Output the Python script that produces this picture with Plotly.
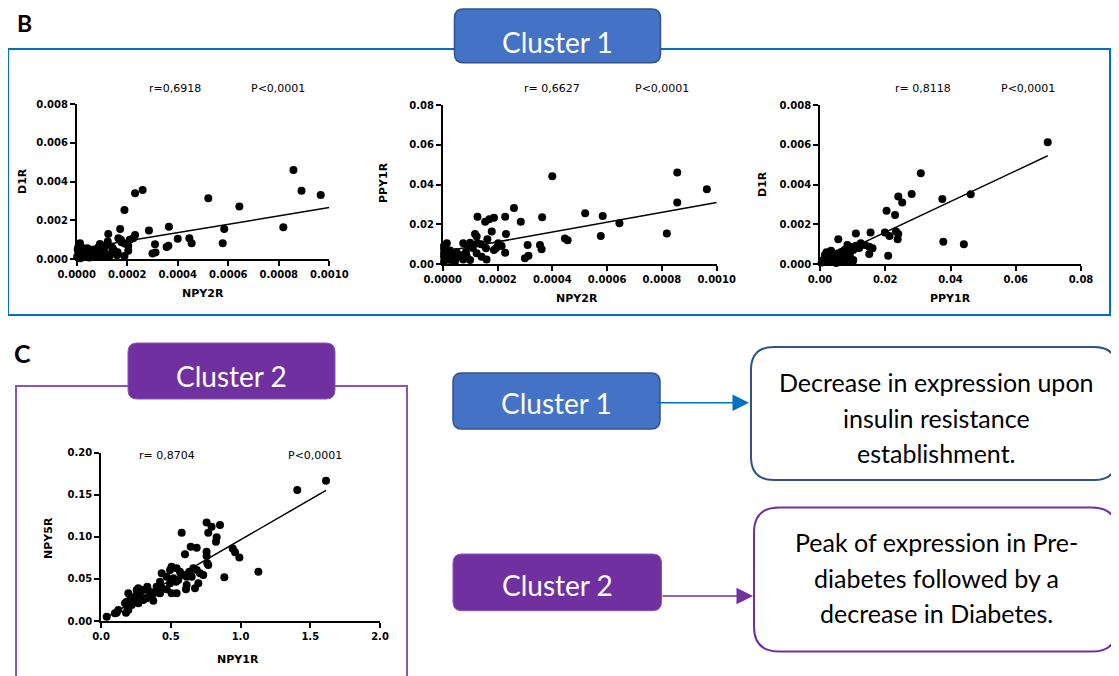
import plotly.graph_objects as go

# ---------------- data ----------------
# Panel B-1 : D1R vs NPY2R
b1_npy2r = [0.000858, 0.000890, 0.000966, 0.000818, 0.000521, 0.000644, 0.000584, 0.000578,
            0.000365, 0.000400, 0.000446, 0.000455, 0.000356, 0.000363, 0.000310, 0.000312,
            0.000300, 0.000286, 0.000261, 0.000231, 0.000189, 0.000172, 0.000231, 0.000224,
            0.000165, 0.000178, 0.000204, 0.000204, 0.000189, 0.000125, 0.000123, 0.000152,
            0.000162, 0.000092, 0.000105, 0.000079, 0.000066, 0.000042, 0.000013, 0.000007,
            0.000006, 0.000013, 0.000042, 0.000026, 0.000002, 0.000053, 0.000092, 0.000119,
            0.000139, 0.000112, 0.000030, 0.000060, 0.000085, 0.000140, 0.000100, 0.000004,
            0.000020, 0.000050, 0.000075, 0.000115, 0.000145, 0.000175, 0.000210, 0.000035,
            0.000015, 0.000160, 0.000190, 0.000130]
b1_d1r = [0.00460, 0.00353, 0.00331, 0.00164, 0.00314, 0.00271, 0.00155, 0.00081,
          0.00167, 0.00105, 0.00107, 0.00081, 0.00062, 0.00069, 0.00076, 0.00034,
          0.00029, 0.00147, 0.00357, 0.00340, 0.00253, 0.00155, 0.00124, 0.00107,
          0.00107, 0.00086, 0.00067, 0.00043, 0.00016, 0.00129, 0.00090, 0.00038,
          0.00035, 0.00078, 0.00055, 0.00036, 0.00026, 0.00055, 0.00081, 0.00065,
          0.00038, 0.00020, 0.00030, 0.00012, 0.00012, 0.00016, 0.00021, 0.00012,
          0.00029, 0.00033, 0.00045, 0.00048, 0.00060, 0.00060, 0.00010, 0.00050,
          0.00060, 0.00008, 0.00015, 0.00070, 0.00050, 0.00100, 0.00100, 0.00025,
          0.00004, 0.00020, 0.00080, 0.00015]
b1_fit = dict(intercept=0.0005, slope=2.16, x0=0.0, x1=0.0010)
b1_stats = ["r=0,6918", "P<0,0001"]

# Panel B-2 : PPY1R vs NPY2R
b2_npy2r = [0.000856, 0.000964, 0.000856, 0.000818, 0.000400, 0.000520, 0.000584, 0.000645,
            0.000577, 0.000446, 0.000456, 0.000363, 0.000355, 0.000361, 0.000310, 0.000313,
            0.000300, 0.000285, 0.000260, 0.000228, 0.000231, 0.000228, 0.000187, 0.000170,
            0.000155, 0.000179, 0.000163, 0.000203, 0.000215, 0.000187, 0.000127, 0.000118,
            0.000124, 0.000127, 0.000100, 0.000075, 0.000094, 0.000158, 0.000124, 0.000142,
            0.000160, 0.000100, 0.000088, 0.000063, 0.000039, 0.000027, 0.000015, 0.000005,
            0.000005, 0.000005, 0.000005, 0.000005, 0.000027, 0.000045, 0.000054, 0.000075,
            0.000110, 0.000140, 0.000050, 0.000020, 0.000035, 0.000195, 0.000085, 0.000010]
b2_ppy1r = [0.0461, 0.0376, 0.0309, 0.0154, 0.0441, 0.0255, 0.0242, 0.0205,
            0.0141, 0.0128, 0.0120, 0.0235, 0.0096, 0.0074, 0.0096, 0.0042,
            0.0029, 0.0213, 0.0282, 0.0238, 0.0151, 0.0057, 0.0233, 0.0225,
            0.0213, 0.0163, 0.0124, 0.0104, 0.0090, 0.0070, 0.0238, 0.0151,
            0.0138, 0.0104, 0.0107, 0.0104, 0.0090, 0.0079, 0.0054, 0.0037,
            0.0023, 0.0020, 0.0037, 0.0045, 0.0057, 0.0068, 0.0104, 0.0092,
            0.0075, 0.0054, 0.0037, 0.0012, 0.0020, 0.0012, 0.0037, 0.0023,
            0.0080, 0.0100, 0.0060, 0.0030, 0.0045, 0.0080, 0.0060, 0.0085]
b2_fit = dict(intercept=0.0062, slope=24.7, x0=0.0, x1=0.0010)
b2_stats = ["r= 0,6627", "P<0,0001"]

# Panel B-3 : D1R vs PPY1R
b3_ppy1r = [0.0698, 0.0309, 0.0281, 0.0240, 0.0252, 0.0375, 0.0462, 0.0204,
            0.0230, 0.0199, 0.0213, 0.0233, 0.0240, 0.0238, 0.0378, 0.0441,
            0.0209, 0.0155, 0.0110, 0.0056, 0.0125, 0.0138, 0.0151, 0.0161,
            0.0151, 0.0084, 0.0092, 0.0102, 0.0110, 0.0034, 0.0020, 0.0015,
            0.0010, 0.0005, 0.0046, 0.0056, 0.0071, 0.0082, 0.0061, 0.0041,
            0.0031, 0.0092, 0.0102, 0.0065, 0.0075, 0.0090, 0.0025, 0.0050,
            0.0015, 0.0120, 0.0100, 0.0070, 0.0040, 0.0085, 0.0030]
b3_d1r = [0.00612, 0.00456, 0.00352, 0.00339, 0.00310, 0.00327, 0.00351, 0.00268,
          0.00247, 0.00159, 0.00141, 0.00163, 0.00151, 0.00124, 0.00112, 0.00099,
          0.00042, 0.00158, 0.00154, 0.00124, 0.00104, 0.00096, 0.00087, 0.00079,
          0.00050, 0.00096, 0.00087, 0.00070, 0.00092, 0.00067, 0.00059, 0.00045,
          0.00020, 0.00007, 0.00045, 0.00054, 0.00037, 0.00012, 0.00020, 0.00020,
          0.00012, 0.00037, 0.00020, 0.00060, 0.00070, 0.00050, 0.00030, 0.00005,
          0.00010, 0.00080, 0.00010, 0.00010, 0.00050, 0.00075, 0.00040]
b3_fit = dict(intercept=0.00005, slope=0.0773, x0=0.0005, x1=0.0698)
b3_stats = ["r= 0,8118", "P<0,0001"]

# Panel C : NPY5R vs NPY1R
c_npy1r = [1.613, 1.407, 1.128, 0.884, 0.944, 0.961, 0.992, 0.853, 0.757, 0.793, 0.769,
           0.829, 0.824, 0.578, 0.643, 0.686, 0.602, 0.757, 0.757, 0.762, 0.769, 0.733,
           0.686, 0.662, 0.633, 0.614, 0.698, 0.674, 0.609, 0.506, 0.542, 0.566, 0.590,
           0.554, 0.435, 0.471, 0.519, 0.495, 0.538, 0.399, 0.435, 0.471, 0.506, 0.542,
           0.423, 0.387, 0.363, 0.332, 0.268, 0.303, 0.280, 0.256, 0.244, 0.220, 0.208,
           0.184, 0.256, 0.196, 0.172, 0.189, 0.196, 0.179, 0.220, 0.268, 0.303, 0.327,
           0.375, 0.244, 0.124, 0.112, 0.100, 0.041, 0.614, 0.650, 0.710, 0.495, 0.423,
           0.351]
c_npy5r = [0.1667, 0.1556, 0.0586, 0.0519, 0.0863, 0.0816, 0.0756, 0.1141, 0.1172, 0.1121,
           0.1050, 0.0994, 0.0943, 0.1050, 0.0883, 0.0871, 0.0792, 0.0824, 0.0772, 0.0685,
           0.0665, 0.0547, 0.0606, 0.0626, 0.0586, 0.0527, 0.0448, 0.0388, 0.0376, 0.0646,
           0.0626, 0.0586, 0.0547, 0.0487, 0.0566, 0.0527, 0.0507, 0.0448, 0.0467, 0.0408,
           0.0388, 0.0376, 0.0329, 0.0329, 0.0329, 0.0337, 0.0309, 0.0408, 0.0388, 0.0368,
           0.0329, 0.0309, 0.0289, 0.0269, 0.0250, 0.0230, 0.0368, 0.0329, 0.0210, 0.0170,
           0.0131, 0.0099, 0.0190, 0.0210, 0.0250, 0.0269, 0.0242, 0.0242, 0.0131, 0.0099,
           0.0091, 0.0051, 0.0428, 0.0527, 0.0566, 0.0606, 0.0467, 0.0349]
c_fit = dict(intercept=0.0008, slope=0.0957, x0=0.041, x1=1.613)
c_stats = ["r= 0,8704", "P<0,0001"]

cluster_labels = ["Cluster 1", "Cluster 2"]
cluster1_desc = ["Decrease in expression upon", "insulin resistance", "establishment."]
cluster2_desc = ["Peak of expression in Pre-", "diabetes followed by a", "decrease in Diabetes."]

# ---------------- layout helpers ----------------
# The page body keeps its default 8px margin, so the figure is drawn 8px in
# from the window's top-left corner; size it to fill the rest of the window.
OFF = 8
WIN_W, WIN_H = 1119, 676
W, H = WIN_W - OFF, WIN_H - OFF


def fx(p):
    return (p - OFF) / W


def fy(p):
    return 1 - (p - OFF) / H


def rrect_path(x0, y0, x1, y1, r):
    pts = [
        ("M", [(x0 + r, y0)]), ("L", [(x1 - r, y0)]), ("Q", [(x1, y0), (x1, y0 + r)]),
        ("L", [(x1, y1 - r)]), ("Q", [(x1, y1), (x1 - r, y1)]), ("L", [(x0 + r, y1)]),
        ("Q", [(x0, y1), (x0, y1 - r)]), ("L", [(x0, y0 + r)]), ("Q", [(x0, y0), (x0 + r, y0)]),
    ]
    s = ""
    for cmd, ps in pts:
        s += cmd + " " + " ".join(f"{fx(a):.5f},{fy(b):.5f}" for a, b in ps) + " "
    return s + "Z"


TICKFONT = dict(family="DejaVu Sans", size=10, color="black", weight="bold")
TITLEFONT = dict(family="DejaVu Sans", size=11, color="black", weight="bold")
STATFONT = dict(family="DejaVu Sans", size=11, color="black")
BOXFONT = "Lato"

panels = [
    dict(x=b1_npy2r, y=b1_d1r, fit=b1_fit, stats=b1_stats,
         dom_x=(76.7, 329.3), dom_y=(104.3, 259), xr=[0, 0.001], yr=[0, 0.008],
         xd=0.0002, yd=0.002, xf=".4f", yf=".3f", xt="NPY2R", yt="D1R",
         xt_pos=(203, 293), yt_pos=(22, 181), st_pos=[(175, 88), (278, 88)]),
    dict(x=b2_npy2r, y=b2_ppy1r, fit=b2_fit, stats=b2_stats,
         dom_x=(442.7, 716.7), dom_y=(105, 264), xr=[0, 0.001], yr=[0, 0.08],
         xd=0.0002, yd=0.02, xf=".4f", yf=".2f", xt="NPY2R", yt="PPY1R",
         xt_pos=(577, 298), yt_pos=(383, 183), st_pos=[(552, 88), (662, 88)]),
    dict(x=b3_ppy1r, y=b3_d1r, fit=b3_fit, stats=b3_stats,
         dom_x=(820, 1081), dom_y=(105, 264), xr=[0, 0.08], yr=[0, 0.008],
         xd=0.02, yd=0.002, xf=".2f", yf=".3f", xt="PPY1R", yt="D1R",
         xt_pos=(950, 298), yt_pos=(762, 184), st_pos=[(923, 88), (1028, 88)]),
    dict(x=c_npy1r, y=c_npy5r, fit=c_fit, stats=c_stats,
         dom_x=(101, 380), dom_y=(452.7, 621), xr=[0, 2.0], yr=[0, 0.20],
         xd=0.5, yd=0.05, xf=".1f", yf=".2f", xt="NPY1R", yt="NPY5R",
         xt_pos=(238, 659), yt_pos=(48, 538), st_pos=[(167, 455), (315, 455)]),
]

fig = go.Figure()
annotations = []
layout_axes = {}

for i, p in enumerate(panels, start=1):
    sfx = "" if i == 1 else str(i)
    fig.add_trace(go.Scatter(
        x=p["x"], y=p["y"], mode="markers", xaxis="x" + sfx, yaxis="y" + sfx,
        marker=dict(color="black", size=8, line=dict(width=0)),
        cliponaxis=False, showlegend=False, hoverinfo="skip"))
    f = p["fit"]
    fig.add_trace(go.Scatter(
        x=[f["x0"], f["x1"]],
        y=[f["intercept"] + f["slope"] * f["x0"], f["intercept"] + f["slope"] * f["x1"]],
        mode="lines", xaxis="x" + sfx, yaxis="y" + sfx,
        line=dict(color="black", width=1.5), cliponaxis=False,
        showlegend=False, hoverinfo="skip"))
    common = dict(showgrid=False, zeroline=False, showline=True, linecolor="black",
                  linewidth=1.5, ticks="outside", ticklen=5, tickwidth=1.5,
                  tickcolor="black", tickfont=TICKFONT, fixedrange=True, automargin=False)
    layout_axes["xaxis" + sfx] = dict(
        common, domain=[fx(p["dom_x"][0]), fx(p["dom_x"][1])], range=p["xr"],
        dtick=p["xd"], tick0=0, tickformat=p["xf"], anchor="y" + sfx)
    layout_axes["yaxis" + sfx] = dict(
        common, domain=[fy(p["dom_y"][1]), fy(p["dom_y"][0])], range=p["yr"],
        dtick=p["yd"], tick0=0, tickformat=p["yf"], anchor="x" + sfx)
    annotations.append(dict(text=p["xt"], x=fx(p["xt_pos"][0]), y=fy(p["xt_pos"][1]),
                            xref="paper", yref="paper", showarrow=False, font=TITLEFONT,
                            xanchor="center", yanchor="middle"))
    annotations.append(dict(text=p["yt"], x=fx(p["yt_pos"][0]), y=fy(p["yt_pos"][1]),
                            xref="paper", yref="paper", showarrow=False, font=TITLEFONT,
                            textangle=-90, xanchor="center", yanchor="middle"))
    for txt, (sx, sy) in zip(p["stats"], p["st_pos"]):
        annotations.append(dict(text=txt, x=fx(sx), y=fy(sy), xref="paper", yref="paper",
                                showarrow=False, font=STATFONT,
                                xanchor="center", yanchor="middle"))

BLUE_FILL, BLUE_EDGE, BLUE_LINE = "#4472C4", "#2F528F", "#0070C0"
PURPLE = "#7030A0"
PURPLE_EDGE = "#8A55B8"

shapes = [
    # panel B frame
    dict(type="rect", xref="paper", yref="paper", x0=fx(8), x1=fx(1110), y0=fy(315), y1=fy(49),
         line=dict(color=BLUE_LINE, width=2), fillcolor="rgba(0,0,0,0)"),
    # panel C frame (open at the bottom)
    dict(type="path", xref="paper", yref="paper",
         path=f"M {fx(16)},{fy(690)} L {fx(16)},{fy(386)} L {fx(407)},{fy(386)} L {fx(407)},{fy(690)}",
         line=dict(color=PURPLE_EDGE, width=2)),
    # header boxes
    dict(type="path", xref="paper", yref="paper", path=rrect_path(454.5, 9, 660.5, 62.7, 9),
         fillcolor=BLUE_FILL, line=dict(color=BLUE_EDGE, width=1.5)),
    dict(type="path", xref="paper", yref="paper", path=rrect_path(128, 343, 335, 399, 9),
         fillcolor=PURPLE, line=dict(color=PURPLE_EDGE, width=1)),
    # right-hand cluster boxes
    dict(type="path", xref="paper", yref="paper", path=rrect_path(453, 373, 660, 429, 9),
         fillcolor=BLUE_FILL, line=dict(color=BLUE_EDGE, width=1.5)),
    dict(type="path", xref="paper", yref="paper", path=rrect_path(453, 554, 661.5, 610.7, 9),
         fillcolor=PURPLE, line=dict(color=PURPLE_EDGE, width=1)),
    # description boxes
    dict(type="path", xref="paper", yref="paper", path=rrect_path(751, 347, 1117, 480, 23),
         fillcolor="white", line=dict(color=BLUE_EDGE, width=2)),
    dict(type="path", xref="paper", yref="paper", path=rrect_path(754, 507.5, 1117, 651.5, 25),
         fillcolor="white", line=dict(color=PURPLE, width=2)),
]

# panel letters
annotations.append(dict(text="B", x=fx(24), y=fy(8), xref="paper", yref="paper",
                        showarrow=False, font=dict(family=BOXFONT, size=23, color="black",
                                                   weight="bold"),
                        xanchor="center", yanchor="top", borderpad=0))
annotations.append(dict(text="C", x=fx(22), y=fy(353), xref="paper", yref="paper",
                        showarrow=False, font=dict(family=BOXFONT, size=25, color="black",
                                                   weight="bold"),
                        xanchor="center", yanchor="middle"))

# cluster labels
for lbl, (cx, cy) in zip([cluster_labels[0], cluster_labels[1], cluster_labels[0], cluster_labels[1]],
                         [(557.5, 42), (231.5, 376), (556.5, 403), (557, 585)]):
    annotations.append(dict(text=lbl, x=fx(cx), y=fy(cy), xref="paper", yref="paper",
                            showarrow=False, font=dict(family=BOXFONT, size=28, color="white"),
                            xanchor="center", yanchor="middle"))

# description texts
for lines, ys in [(cluster1_desc, [381.7, 417.5, 453]), (cluster2_desc, [541.7, 578, 613])]:
    for t, yy in zip(lines, ys):
        annotations.append(dict(text=t, x=fx(936), y=fy(yy), xref="paper", yref="paper",
                                showarrow=False, font=dict(family=BOXFONT, size=25, color="black"),
                                xanchor="center", yanchor="middle"))

# arrows
annotations.append(dict(text="", x=fx(749), y=fy(402.7), xref="paper", yref="paper",
                        showarrow=True, ax=-94, ay=0, arrowhead=2, arrowsize=2.2,
                        arrowwidth=1.5, arrowcolor=BLUE_LINE))
annotations.append(dict(text="", x=fx(753), y=fy(596), xref="paper", yref="paper",
                        showarrow=True, ax=-92, ay=0, arrowhead=2, arrowsize=2.2,
                        arrowwidth=1.5, arrowcolor=PURPLE))

fig.update_layout(
    width=W, height=H, autosize=False,
    margin=dict(l=0, r=0, t=0, b=0, pad=0, autoexpand=False),
    paper_bgcolor="white", plot_bgcolor="white",
    shapes=shapes, annotations=annotations, showlegend=False,
    **layout_axes,
)

fig.write_html("out.html")
